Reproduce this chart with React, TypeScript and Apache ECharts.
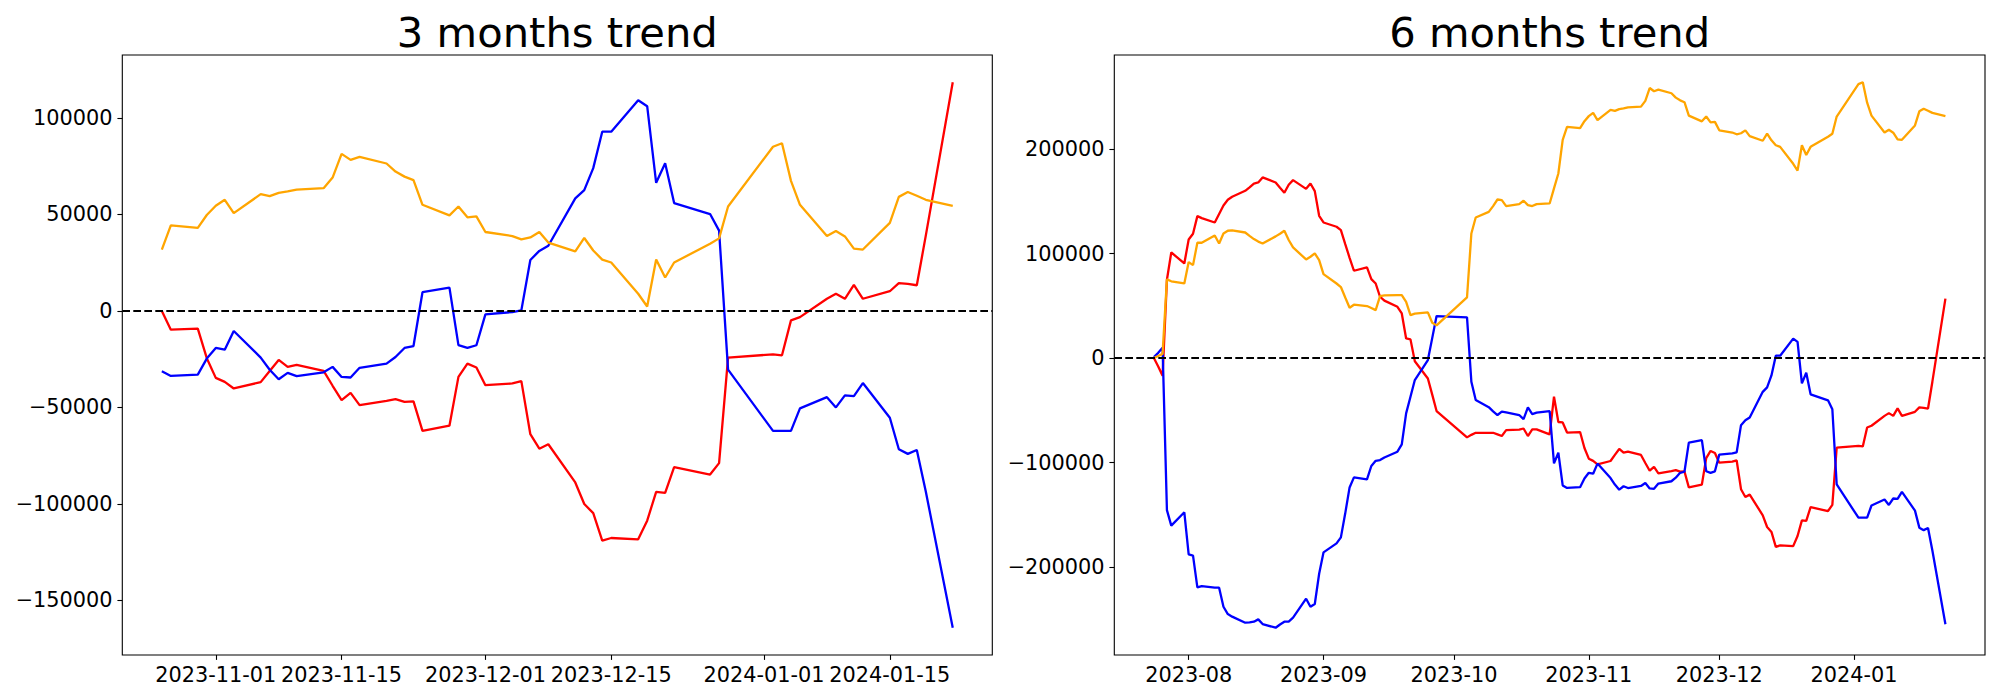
import React, { useEffect, useRef } from "react";
import * as echarts from "echarts";

// ---------- 3 months panel ----------
const dates3 = [
  "2023-10-26","2023-10-27","2023-10-30","2023-10-31","2023-11-01","2023-11-02","2023-11-03",
  "2023-11-06","2023-11-07","2023-11-08","2023-11-09","2023-11-10","2023-11-13","2023-11-14",
  "2023-11-15","2023-11-16","2023-11-17","2023-11-20","2023-11-21","2023-11-22","2023-11-23",
  "2023-11-24","2023-11-27","2023-11-28","2023-11-29","2023-11-30","2023-12-01","2023-12-04",
  "2023-12-05","2023-12-06","2023-12-07","2023-12-08","2023-12-11","2023-12-12","2023-12-13",
  "2023-12-14","2023-12-15","2023-12-18","2023-12-19","2023-12-20","2023-12-21","2023-12-22",
  "2023-12-26","2023-12-27","2023-12-28","2024-01-02","2024-01-03","2024-01-04","2024-01-05",
  "2024-01-08","2024-01-09","2024-01-10","2024-01-11","2024-01-12","2024-01-15","2024-01-16",
  "2024-01-17","2024-01-18","2024-01-19","2024-01-22",
];
const red3 = [
  0, -9700, -9200, -24500, -34700, -36800, -40200, -36900, -31100, -25400, -29000, -28000, -31100, -38800,
  -46200, -42500, -48800, -46600, -45700, -47100, -46900, -62200, -59500, -34200, -27300, -29300, -38500, -37600,
  -36400, -63900, -71400, -69100, -88900, -100100, -104800, -119100, -117700, -118400, -108700, -93800, -94300, -81000,
  -84800, -78900, -24200, -22500, -23000, -4900, -3200, 6300, 8900, 6300, 13500, 6300, 10200, 14400,
  14000, 13300, 39000, 118500,
];
const blue3 = [
  -31300, -33700, -33000, -24700, -19200, -20100, -10400, -24200, -30500, -35400, -32100, -33800, -31800, -29000,
  -34200, -34500, -29500, -27300, -23900, -19200, -18200, 9700, 12100, -17700, -19200, -17800, -1800, -600,
  300, 26400, 31100, 33800, 58300, 62600, 74000, 92900, 92900, 109200, 106100, 66400, 76500, 55900,
  50200, 41600, -30400, -62200, -62200, -62200, -50500, -44700, -50000, -43800, -44200, -37400, -55400, -71700,
  -74100, -72100, -93600, -164200,
];
const orange3 = [
  31800, 44300, 43000, 49700, 54500, 57600, 50700, 60500, 59500, 61200, 61900, 62900, 63600, 69100,
  81400, 78300, 79800, 76400, 72200, 69600, 67800, 55000, 49500, 54100, 48500, 49000, 40900, 38800,
  37100, 38100, 40900, 35400, 30900, 37800, 31300, 26600, 25100, 8900, 2300, 26600, 17300, 25100,
  34800, 37600, 54100, 85100, 86900, 67400, 55000, 38800, 41400, 38600, 32300, 31800, 45600, 59100,
  61600, 59700, 57600, 54500,
];
const ticks3X = ["2023-11-01", "2023-11-15", "2023-12-01", "2023-12-15", "2024-01-01", "2024-01-15"];
const ticks3Y = [-150000, -100000, -50000, 0, 50000, 100000];

// ---------- 6 months panel ----------
const dates6 = [
  "2023-07-24","2023-07-25","2023-07-26","2023-07-27","2023-07-28","2023-07-31",
  "2023-08-01","2023-08-02","2023-08-03","2023-08-04","2023-08-07","2023-08-08","2023-08-09","2023-08-10",
  "2023-08-11","2023-08-14","2023-08-15","2023-08-16","2023-08-17","2023-08-18","2023-08-21","2023-08-22",
  "2023-08-23","2023-08-24","2023-08-25","2023-08-28","2023-08-29","2023-08-30","2023-08-31",
  "2023-09-01","2023-09-04","2023-09-05","2023-09-06","2023-09-07","2023-09-08","2023-09-11","2023-09-12",
  "2023-09-13","2023-09-14","2023-09-15","2023-09-18","2023-09-19","2023-09-20","2023-09-21","2023-09-22",
  "2023-09-25","2023-09-26","2023-09-27",
  "2023-10-04","2023-10-05","2023-10-06","2023-10-09","2023-10-10","2023-10-11","2023-10-12","2023-10-13",
  "2023-10-16","2023-10-17","2023-10-18","2023-10-19","2023-10-20","2023-10-23","2023-10-24","2023-10-25",
  "2023-10-26","2023-10-27","2023-10-30","2023-10-31","2023-11-01","2023-11-02","2023-11-03",
  "2023-11-06","2023-11-07","2023-11-08","2023-11-09","2023-11-10","2023-11-13","2023-11-14",
  "2023-11-15","2023-11-16","2023-11-17","2023-11-20","2023-11-21","2023-11-22","2023-11-23",
  "2023-11-24","2023-11-27","2023-11-28","2023-11-29","2023-11-30","2023-12-01","2023-12-04",
  "2023-12-05","2023-12-06","2023-12-07","2023-12-08","2023-12-11","2023-12-12","2023-12-13",
  "2023-12-14","2023-12-15","2023-12-18","2023-12-19","2023-12-20","2023-12-21","2023-12-22",
  "2023-12-26","2023-12-27","2023-12-28","2024-01-02","2024-01-03","2024-01-04","2024-01-05",
  "2024-01-08","2024-01-09","2024-01-10","2024-01-11","2024-01-12","2024-01-15","2024-01-16",
  "2024-01-17","2024-01-18","2024-01-19","2024-01-22",
];
const red6 = [
  0, -8000, -17000, 75000, 101100, 90600,
  113500, 119000, 135900, 134000, 129800, 138000, 146100, 151500,
  154400, 160100, 163500, 167100, 168100, 172900, 168100, 163000,
  158200, 165900, 170300, 162000, 167100, 159800, 136200,
  129800, 125700, 122500, 109000, 96000, 83600, 86800, 75600,
  71400, 58700, 55000, 49100, 42700, 18800, 17900, -3000,
  -19500, -35000, -50700,
  -75900, -73500, -71500, -71500, -71500, -73000, -74600, -69000,
  -68500, -67400, -74600, -68200, -68200, -73000, -37000, -61200,
  -61600, -71300, -70800, -86100, -96300, -98400, -101800,
  -98500, -92700, -87000, -90600, -89600, -92700, -100400,
  -107800, -104100, -110400, -108200, -107300, -108700, -108500,
  -123800, -121100, -95800, -88900, -90900, -100100, -99200,
  -98000, -125500, -133000, -130700, -150500, -161700, -166400,
  -180700, -179300, -180000, -170300, -155400, -155900, -142600,
  -146400, -140500, -85800, -84100, -84600, -66500, -64800,
  -55300, -52700, -55300, -48100, -55300, -51400, -47200,
  -47600, -48300, -22600, 56900,
];
const blue6 = [
  1000, 5000, 10000, -145500, -160400, -147600,
  -187900, -189000, -219500, -218200, -219800, -219800, -238000, -245000,
  -247500, -253300, -253000, -252300, -250100, -254600, -258100, -255000,
  -252300, -252300, -248500, -230300, -238000, -235400, -206400,
  -186000, -177400, -171600, -148600, -123800, -114200, -116100, -103300,
  -98300, -97600, -95100, -89600, -82600, -52900, -37000, -21000,
  -1900, 19100, 40200,
  39000, -22700, -40200, -47000, -51000, -54500, -51300, -52000,
  -54500, -58400, -47200, -53600, -52300, -50700, -100800, -90600,
  -121900, -124300, -123600, -115300, -109800, -110700, -101000,
  -114800, -121100, -126000, -122700, -124400, -122400, -119600,
  -124800, -125100, -120100, -117900, -114500, -109800, -108800,
  -80900, -78500, -108300, -109800, -108400, -92400, -91200,
  -90300, -64200, -59500, -56800, -32300, -28000, -16600,
  2300, 2300, 18600, 15500, -24200, -14100, -34700,
  -40400, -49000, -121000, -152800, -152800, -152800, -141100,
  -135300, -140600, -134400, -134800, -128000, -146000, -162300,
  -164700, -162700, -184200, -254800,
];
const orange6 = [
  0, 2000, 4000, 75300, 73500, 71400,
  91900, 89000, 110400, 110400, 117400, 109700, 119300, 121900,
  122200, 120200, 117000, 113900, 111500, 109700, 116500, 119000,
  121900, 113000, 105900, 94400, 97000, 100200, 93800,
  80400, 71400, 68000, 58000, 48200, 51100, 49800, 48000,
  45900, 59300, 60000, 60300, 60300, 53900, 41100, 42500,
  43700, 33800, 31300,
  58100, 119300, 134600, 140000, 145500, 151800, 151200, 145500,
  147400, 150600, 146400, 145500, 147400, 148000, 162400, 176700,
  208900, 221400, 220100, 226800, 231600, 234700, 227800,
  237600, 236600, 238300, 239000, 240000, 240700, 246200,
  258500, 255400, 256900, 253500, 249300, 246700, 244900,
  232100, 226600, 231200, 225600, 226100, 218000, 215900,
  214200, 215200, 218000, 212500, 208000, 214900, 208400,
  203700, 202200, 186000, 179400, 203700, 194400, 202200,
  211900, 214700, 231200, 262200, 264000, 244500, 232100,
  215900, 218500, 215700, 209400, 208900, 222700, 236200,
  238700, 236800, 234700, 231600,
];
const ticks6X = ["2023-08-01", "2023-09-01", "2023-10-01", "2023-11-01", "2023-12-01", "2024-01-01"];
const ticks6Y = [-200000, -100000, 0, 100000, 200000];

const titles = ["3 months trend", "6 months trend"];
const COLORS = { red: "#ff0000", blue: "#0000ff", orange: "#ffa500" };

// ---------- helpers ----------
const toTs = (s: string) => {
  const [y, m, d] = s.split("-").map(Number);
  return new Date(y, m - 1, d).getTime();
};
const pad2 = (n: number) => String(n).padStart(2, "0");
const fmtDay = (v: number) => {
  const d = new Date(v);
  return `${d.getFullYear()}-${pad2(d.getMonth() + 1)}-${pad2(d.getDate())}`;
};
const fmtMonth = (v: number) => {
  const d = new Date(v);
  return `${d.getFullYear()}-${pad2(d.getMonth() + 1)}`;
};
const fmtNum = (v: number) => (v < 0 ? "\u2212" + Math.abs(Math.round(v)) : String(Math.round(v)));
const pairs = (dates: string[], vals: number[]) => dates.map((d, i) => [toTs(d), vals[i]]);
const padRange = (lo: number, hi: number) => {
  const m = (hi - lo) * 0.05;
  return [lo - m, hi + m];
};

const FONT = "DejaVu Sans";
const FS = 20.83;
const LW = 2.3;

export default function App() {
  const ref = useRef<HTMLDivElement>(null);
  useEffect(() => {
    if (!ref.current) return;
    const chart = echarts.init(ref.current, undefined, { renderer: "svg" });

    const panels = [
      { dates: dates3, red: red3, blue: blue3, orange: orange3, tx: ticks3X, ty: ticks3Y, fmt: fmtDay,
        grid: { left: 122.3, top: 55, width: 870, height: 600 } },
      { dates: dates6, red: red6, blue: blue6, orange: orange6, tx: ticks6X, ty: ticks6Y, fmt: fmtMonth,
        grid: { left: 1114.3, top: 55, width: 870.7, height: 600 } },
    ];

    const grids: any[] = [];
    const xAxes: any[] = [];
    const yAxes: any[] = [];
    const series: any[] = [];
    const graphics: any[] = [];

    panels.forEach((p, i) => {
      const ts = p.dates.map(toTs);
      const [xmin, xmax] = padRange(Math.min(...ts), Math.max(...ts));
      const all = [...p.red, ...p.blue, ...p.orange];
      const [ymin, ymax] = padRange(Math.min(...all), Math.max(...all));
      grids.push({
        ...p.grid,
        show: true,
        borderColor: "#000",
        borderWidth: 1.1,
        backgroundColor: "#fff",
        containLabel: false,
        outerBoundsMode: "none",
      });
      const tickVals = p.tx.map(toTs);
      xAxes.push({
        type: "value",
        gridIndex: i,
        position: "bottom",
        min: xmin,
        max: xmax,
        axisLine: { show: false, onZero: false },
        splitLine: { show: false },
        axisTick: { show: true, inside: false, length: 4.9, customValues: tickVals, lineStyle: { color: "#000", width: 1.1 } },
        axisLabel: {
          show: true,
          customValues: tickVals,
          margin: 9.7,
          color: "#000",
          fontFamily: FONT,
          fontSize: FS,
          formatter: (v: number) => p.fmt(v),
        },
      });
      yAxes.push({
        type: "value",
        gridIndex: i,
        position: "left",
        min: ymin,
        max: ymax,
        axisLine: { show: false, onZero: false },
        splitLine: { show: false },
        axisTick: { show: true, inside: false, length: 4.9, customValues: p.ty, lineStyle: { color: "#000", width: 1.1 } },
        axisLabel: {
          show: true,
          customValues: p.ty,
          margin: 9.7,
          color: "#000",
          fontFamily: FONT,
          fontSize: FS,
          formatter: (v: number) => fmtNum(v),
        },
      });
      const mk = (name: string, vals: number[], color: string, withZero: boolean) => ({
        type: "line",
        name,
        xAxisIndex: i,
        yAxisIndex: i,
        data: pairs(p.dates, vals),
        showSymbol: false,
        symbol: "none",
        lineStyle: { color, width: LW },
        itemStyle: { color },
        silent: true,
        z: 3,
        markLine: withZero
          ? {
              silent: true,
              symbol: ["none", "none"],
              label: { show: false },
              lineStyle: { color: "#000", width: 2.08, type: [7.7, 3.3] },
              data: [{ yAxis: 0 }],
              z: 5,
            }
          : undefined,
      });
      series.push(mk("red", p.red, COLORS.red, true));
      series.push(mk("blue", p.blue, COLORS.blue, false));
      series.push(mk("orange", p.orange, COLORS.orange, false));

      graphics.push({
        type: "text",
        x: p.grid.left + p.grid.width / 2,
        y: 32,
        style: {
          text: titles[i],
          fill: "#000",
          fontFamily: FONT,
          fontSize: 41.67,
          textAlign: "center",
          textVerticalAlign: "middle",
        },
      });
    });

    chart.setOption({
      animation: false,
      backgroundColor: "#fff",
      textStyle: { fontFamily: FONT },
      grid: grids,
      xAxis: xAxes,
      yAxis: yAxes,
      series,
      graphic: graphics,
    });

    return () => chart.dispose();
  }, []);

  return (
    <div
      ref={ref}
      style={{ position: "fixed", left: 0, top: 0, width: "2000px", height: "700px", background: "#fff" }}
    />
  );
}
